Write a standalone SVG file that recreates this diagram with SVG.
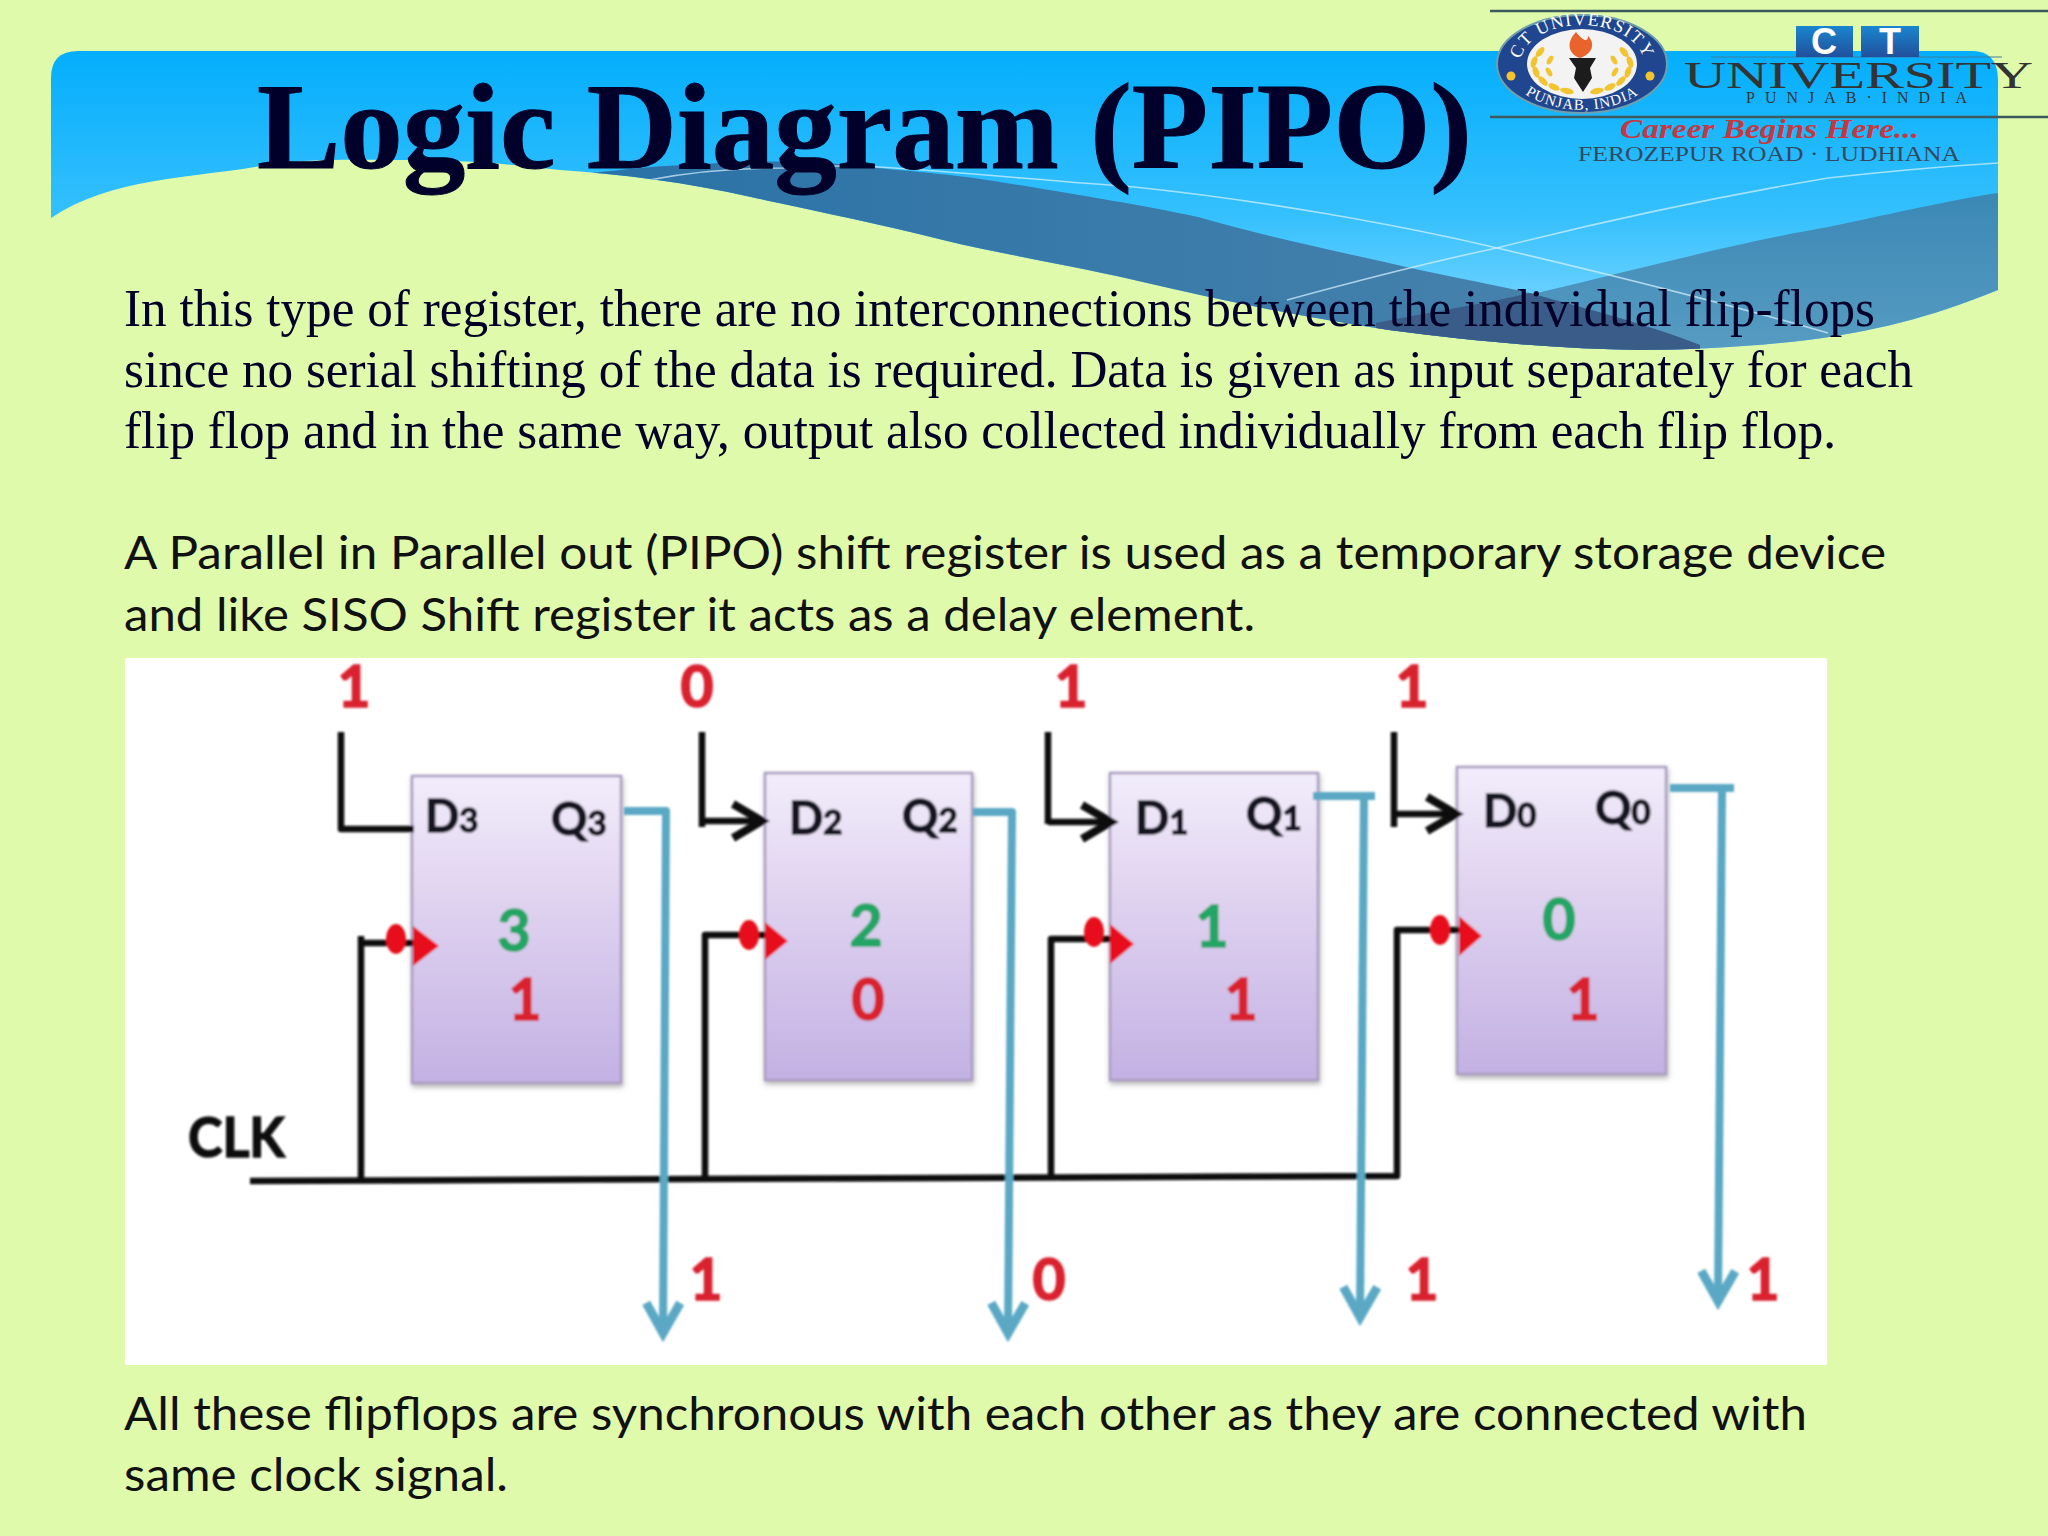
<svg xmlns="http://www.w3.org/2000/svg" xmlns:xlink="http://www.w3.org/1999/xlink" width="2048" height="1536" viewBox="0 0 2048 1536">
<defs>
<linearGradient id="sky" x1="0" y1="0" x2="0" y2="1"><stop offset="0" stop-color="#04aefc"/><stop offset="0.55" stop-color="#35c0fd"/><stop offset="1" stop-color="#8bdcff"/></linearGradient>
<linearGradient id="band1" x1="0" y1="0" x2="1" y2="0"><stop offset="0" stop-color="#2a72a6"/><stop offset="1" stop-color="#4a84ad"/></linearGradient>
<linearGradient id="band2" x1="0" y1="0" x2="0" y2="1"><stop offset="0" stop-color="#3b88b5"/><stop offset="1" stop-color="#5fa2c6"/></linearGradient>
<linearGradient id="ff" x1="0" y1="0" x2="0" y2="1"><stop offset="0" stop-color="#f2edfb"/><stop offset="0.35" stop-color="#e2d6f1"/><stop offset="1" stop-color="#c3b1e3"/></linearGradient>
<linearGradient id="ct" x1="0" y1="0" x2="0" y2="1"><stop offset="0" stop-color="#1a86cf"/><stop offset="1" stop-color="#214f9c"/></linearGradient>
<clipPath id="bannerClip"><path d="M51 218V78Q51 51 78 51H1972Q1998 51 1998 80V290C1930 318 1870 332 1808 340C1750 347 1690 350 1640 350C1560 349 1480 342 1389 330C1300 317 1220 300 1134 280C1060 263 1005 255 943 240C880 224 820 212 751 197C690 183 620 174 560 170C500 163 460 160 408 160C350 160 300 158 255 167C190 178 110 178 51 218Z"/></clipPath>
<filter id="soft" x="-5%" y="-5%" width="110%" height="110%"><feGaussianBlur stdDeviation="0.8"/></filter>
<filter id="shadow" x="-5%" y="-5%" width="112%" height="112%"><feDropShadow dx="1" dy="3" stdDeviation="2.5" flood-color="#777" flood-opacity="0.55"/></filter>
<marker id="blk" markerUnits="userSpaceOnUse" viewBox="-40 -26 50 52" refX="0" refY="0" markerWidth="50" markerHeight="52" orient="auto" overflow="visible"><path d="M-29 -17L0 0L-29 17" fill="none" stroke="#0a0a0a" stroke-width="8"/></marker>
<marker id="tl" markerUnits="userSpaceOnUse" viewBox="-40 -26 50 52" refX="0" refY="0" markerWidth="50" markerHeight="52" orient="auto" overflow="visible"><path d="M-33 -17L-3 0L-33 17" fill="none" stroke="#5aa8c4" stroke-width="9"/></marker>
<style>
.body{font-family:"Liberation Serif",serif;font-size:52px;fill:#000028}
.cal{font-family:Lato,"Open Sans",sans-serif;font-size:46px;fill:#111}
.dg{font-family:Lato,"Open Sans",sans-serif;font-size:57px;font-weight:700;text-anchor:middle;stroke-width:1.6}
.red{fill:#d9202f;stroke:#d9202f}.grn{fill:#22a565;stroke:#22a565}
.pin{font-family:Lato,"Open Sans",sans-serif;font-size:45px;font-weight:700;fill:#151520;stroke:#151520;stroke-width:1.4}
.sub{font-size:33px}
.ffbox{fill:url(#ff);stroke:#a89cc0;stroke-width:2.5;filter:url(#shadow)}
.wire{fill:none;stroke:#0a0a0a;stroke-width:6.5;stroke-linejoin:round}
.out{fill:none;stroke:#5aa8c4;stroke-width:8;stroke-linejoin:round}
.dot{fill:#e8101a}
.sw{fill:none;stroke:#d9f2ff;stroke-width:1.6;opacity:.7}
.leaf{fill:#f2c430}
</style>
</defs>
<rect width="2048" height="1536" fill="#e0faab"/>
<g id="banner">
<g clip-path="url(#bannerClip)">
<rect x="51" y="51" width="1947" height="300" fill="url(#sky)"/>
<path d="M1376 323C1430 312 1490 303 1537 293C1634 270 1740 242 1828 227C1900 212 1950 200 1998 193V400H1376Z" fill="url(#band2)"/>
<path d="M592 173C620 170 650 166 688 165C760 160 810 160 866 167C920 172 960 175 1006 183C1080 195 1140 205 1198 217C1260 235 1330 250 1389 263C1440 275 1480 282 1530 293C1590 310 1640 322 1700 345V400H590Z" fill="url(#band1)"/>
<path d="M1376 323C1430 312 1490 303 1530 293C1590 310 1640 322 1700 345V400H1376Z" fill="#3a5c88"/>
<path class="sw" d="M649 180C690 172 740 168 783 168C830 165 860 166 879 167C960 172 1060 182 1134 187C1260 200 1400 225 1497 248C1600 272 1720 302 1828 333"/>
<path class="sw" d="M1287 300C1360 280 1430 262 1497 248C1600 222 1710 198 1828 178C1900 170 1950 166 1998 163"/>
</g>
</g>
<text id="title" x="257" y="168" font-family="'Liberation Serif',serif" font-weight="700" font-size="122" fill="#00002a" stroke="#00002a" stroke-width="1" textLength="1215" lengthAdjust="spacingAndGlyphs">Logic Diagram (PIPO)</text>
<g id="logo">
<line x1="1490" y1="11" x2="2048" y2="11" stroke="#3d5b5e" stroke-width="2.5"/>
<line x1="1490" y1="117" x2="2048" y2="117" stroke="#3d5b5e" stroke-width="2.5"/>
<line x1="1711" y1="57" x2="2002" y2="57" stroke="#3d7f9e" stroke-width="1"/>
<ellipse cx="1582" cy="64" rx="85" ry="49" fill="#20468f" stroke="#6f9fae" stroke-width="2"/>
<ellipse cx="1582" cy="64" rx="55" ry="35" fill="#f3f3f3"/>
<path id="sealTop" d="M1523 76A62 39 0 1 1 1641 76" fill="none"/>
<path id="sealBot" d="M1511 80A76 46 0 0 0 1653 80" fill="none"/>
<text font-family="'Liberation Serif',serif" font-size="18" fill="#fff" letter-spacing="1.2" text-anchor="middle"><textPath href="#sealTop" xlink:href="#sealTop" startOffset="50%">CT UNIVERSITY</textPath></text>
<text font-family="'Liberation Serif',serif" font-size="15" fill="#fff" letter-spacing="1" text-anchor="middle"><textPath href="#sealBot" xlink:href="#sealBot" startOffset="50%">PUNJAB, INDIA</textPath></text>
<circle cx="1511" cy="76" r="4.5" fill="#f2c430"/><circle cx="1650" cy="76" r="4.5" fill="#f2c430"/>
<path d="M1576 32C1566 42 1568 54 1580 58C1592 54 1596 44 1588 36C1588 42 1584 42 1576 32Z" fill="#e8642c"/>
<path d="M1569 58H1596L1590 68L1592 78L1583 92L1574 78L1576 68Z" fill="#1c1c1c"/>
<g class="leaf">
<ellipse cx="1540" cy="52" rx="6" ry="3" transform="rotate(-50 1540 52)"/><ellipse cx="1534" cy="62" rx="6" ry="3" transform="rotate(-70 1534 62)"/><ellipse cx="1536" cy="72" rx="6" ry="3" transform="rotate(70 1536 72)"/><ellipse cx="1543" cy="81" rx="6" ry="3" transform="rotate(45 1543 81)"/><ellipse cx="1554" cy="87" rx="6" ry="3" transform="rotate(25 1554 87)"/><ellipse cx="1567" cy="91" rx="7" ry="3" transform="rotate(12 1567 91)"/><ellipse cx="1550" cy="60" rx="5" ry="2.5" transform="rotate(-60 1550 60)"/><ellipse cx="1549" cy="72" rx="5" ry="2.5" transform="rotate(60 1549 72)"/>
<ellipse cx="1624" cy="52" rx="6" ry="3" transform="rotate(50 1624 52)"/><ellipse cx="1630" cy="62" rx="6" ry="3" transform="rotate(70 1630 62)"/><ellipse cx="1628" cy="72" rx="6" ry="3" transform="rotate(-70 1628 72)"/><ellipse cx="1621" cy="81" rx="6" ry="3" transform="rotate(-45 1621 81)"/><ellipse cx="1610" cy="87" rx="6" ry="3" transform="rotate(-25 1610 87)"/><ellipse cx="1597" cy="91" rx="7" ry="3" transform="rotate(-12 1597 91)"/><ellipse cx="1614" cy="60" rx="5" ry="2.5" transform="rotate(60 1614 60)"/><ellipse cx="1615" cy="72" rx="5" ry="2.5" transform="rotate(-60 1615 72)"/>
</g>
<rect x="1796" y="26" width="57" height="31" fill="url(#ct)"/><rect x="1861" y="26" width="58" height="31" fill="url(#ct)"/>
<text x="1824" y="54" font-family="'Liberation Sans',sans-serif" font-weight="700" font-size="36" fill="#fff" text-anchor="middle">C</text>
<text x="1890" y="54" font-family="'Liberation Sans',sans-serif" font-weight="700" font-size="36" fill="#fff" text-anchor="middle">T</text>
<text x="1684" y="88" font-family="'Liberation Serif',serif" font-size="38" fill="#333" textLength="349" lengthAdjust="spacingAndGlyphs">UNIVERSITY</text>
<text x="1746" y="103" font-family="'Liberation Serif',serif" font-size="16" fill="#333" textLength="221">PUNJAB·INDIA</text>
<text x="1620" y="138" font-family="'Liberation Serif',serif" font-style="italic" font-weight="700" font-size="27" fill="#c8373f" textLength="299" lengthAdjust="spacingAndGlyphs">Career Begins Here...</text>
<text x="1578" y="161" font-family="'Liberation Serif',serif" font-size="20" fill="#33495e" textLength="382" lengthAdjust="spacingAndGlyphs">FEROZEPUR ROAD · LUDHIANA</text>
</g>
<g id="paragraphs">
<text class="body" x="124" y="326" textLength="1751" lengthAdjust="spacingAndGlyphs">In this type of register, there are no interconnections between the individual flip-flops</text>
<text class="body" x="124" y="387" textLength="1789" lengthAdjust="spacingAndGlyphs">since no serial shifting of the data is required. Data is given as input separately for each</text>
<text class="body" x="124" y="448" textLength="1712" lengthAdjust="spacingAndGlyphs">flip flop and in the same way, output also collected individually from each flip flop.</text>
<text class="cal" x="124" y="569" textLength="1762" lengthAdjust="spacingAndGlyphs">A Parallel in Parallel out (PIPO) shift register is used as a temporary storage device</text>
<text class="cal" x="124" y="631" textLength="1131" lengthAdjust="spacingAndGlyphs">and like SISO Shift register it acts as a delay element.</text>
<text class="cal" x="124" y="1430" textLength="1683" lengthAdjust="spacingAndGlyphs">All these flipflops are synchronous with each other as they are connected with</text>
<text class="cal" x="124" y="1491" textLength="384" lengthAdjust="spacingAndGlyphs">same clock signal.</text>
</g>
<rect id="panel" x="125" y="658" width="1702" height="707" fill="#fff"/>
<g id="picture" filter="url(#soft)">
<g id="ff3"><rect class="ffbox" x="412" y="776" width="209" height="307"/>
<text class="pin" x="425" y="832">D<tspan class="sub">3</tspan></text><text class="pin" x="551" y="835">Q<tspan class="sub">3</tspan></text>
<text class="dg grn" x="514" y="951">3</text><text class="dg red" x="525" y="1020">1</text></g>
<g id="ff2"><rect class="ffbox" x="765" y="773" width="207" height="307"/>
<text class="pin" x="789" y="834">D<tspan class="sub">2</tspan></text><text class="pin" x="902" y="832">Q<tspan class="sub">2</tspan></text>
<text class="dg grn" x="866" y="946">2</text><text class="dg red" x="868" y="1020">0</text></g>
<g id="ff1"><rect class="ffbox" x="1110" y="773" width="208" height="307"/>
<text class="pin" x="1135" y="834">D<tspan class="sub">1</tspan></text><text class="pin" x="1246" y="830">Q<tspan class="sub">1</tspan></text>
<text class="dg grn" x="1212" y="947">1</text><text class="dg red" x="1241" y="1020">1</text></g>
<g id="ff0"><rect class="ffbox" x="1457" y="767" width="209" height="307"/>
<text class="pin" x="1483" y="827">D<tspan class="sub">0</tspan></text><text class="pin" x="1595" y="824">Q<tspan class="sub">0</tspan></text>
<text class="dg grn" x="1559" y="940">0</text><text class="dg red" x="1583" y="1020">1</text></g>
<g id="connectors">
<path class="wire" d="M341 732V829H414"/>
<path class="wire" d="M702 732V827"/><path class="wire" d="M702 821H762" marker-end="url(#blk)"/>
<path class="wire" d="M1048 732V824"/><path class="wire" d="M1048 822H1111" marker-end="url(#blk)"/>
<path class="wire" d="M1394 732V827"/><path class="wire" d="M1394 814H1456" marker-end="url(#blk)"/>
<path class="wire" d="M250 1181C500 1180 900 1178 1397 1176V930H1460"/>
<path class="wire" d="M361 1180V936M361 943H413"/>
<path class="wire" d="M705 1180V935H765"/>
<path class="wire" d="M1051 1178V939H1110"/>
<g class="dot"><ellipse cx="396" cy="939" rx="10" ry="15"/><path d="M413 926L439 946L413 966Z"/>
<ellipse cx="749" cy="935" rx="10" ry="15"/><path d="M765 922L788 941L765 960Z"/>
<ellipse cx="1094" cy="932" rx="10" ry="15"/><path d="M1110 924L1134 944L1110 964Z"/>
<ellipse cx="1440" cy="930" rx="10" ry="15"/><path d="M1459 916L1482 936L1459 956Z"/></g>
<path class="out" d="M624 811H666L663 1336" marker-end="url(#tl)"/>
<path class="out" d="M973 812H1012L1008 1336" marker-end="url(#tl)"/>
<path class="out" d="M1313 796H1375"/><path class="out" d="M1364 796L1360 1320" marker-end="url(#tl)"/>
<path class="out" d="M1670 788H1734"/><path class="out" d="M1722 788L1718 1304" marker-end="url(#tl)"/>
</g>
<g id="labels">
<text class="dg red" x="354" y="707">1</text><text class="dg red" x="697" y="707">0</text><text class="dg red" x="1071" y="707">1</text><text class="dg red" x="1412" y="707">1</text>
<text class="dg red" x="706" y="1300">1</text><text class="dg red" x="1049" y="1300">0</text><text class="dg red" x="1422" y="1300">1</text><text class="dg red" x="1763" y="1300">1</text>
<text x="188" y="1157" font-family="Lato,'Open Sans',sans-serif" font-weight="700" font-size="56" fill="#111" stroke="#111" stroke-width="1.4" textLength="97" lengthAdjust="spacingAndGlyphs">CLK</text>
</g>
</g>
</svg>
